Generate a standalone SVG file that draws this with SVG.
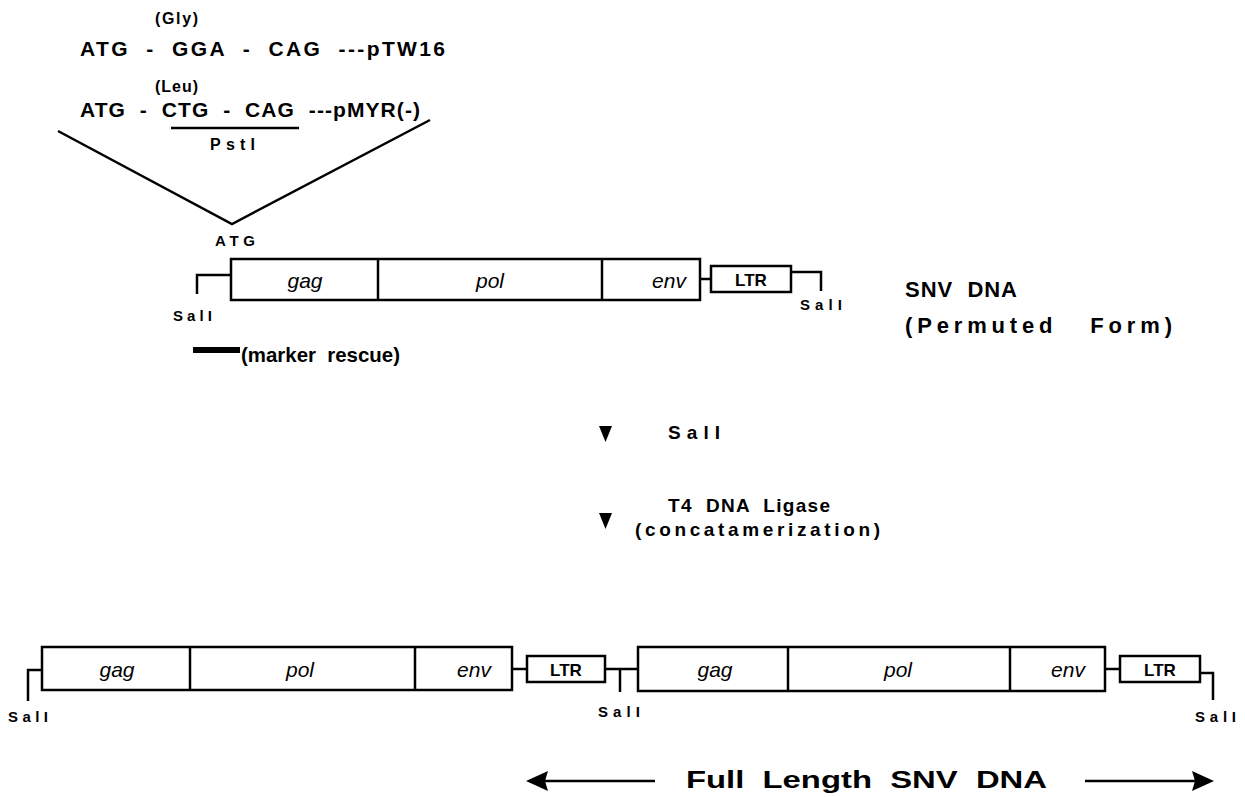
<svg xmlns="http://www.w3.org/2000/svg" width="1245" height="797" viewBox="0 0 1245 797" xml:space="preserve">
<style>
.b{font-family:"Liberation Sans",Arial,sans-serif;font-weight:bold;fill:#000;white-space:pre}
.i{font-family:"Liberation Sans",Arial,sans-serif;font-style:italic;font-size:21px;fill:#000;text-anchor:middle}
.ln{stroke:#000;stroke-width:2.5;fill:none}
.box{stroke:#000;stroke-width:2.5;fill:#fff}
</style>
<rect width="1245" height="797" fill="#fff"/>
<g id="codons">
<text class="b" x="155" y="24" font-size="16" textLength="43" lengthAdjust="spacing">(Gly)</text>
<text class="b" x="80" y="56" font-size="21" textLength="365" lengthAdjust="spacing">ATG  -  GGA  -  CAG  ---pTW16</text>
<text class="b" x="155" y="92" font-size="16" textLength="43" lengthAdjust="spacing">(Leu)</text>
<text class="b" x="80" y="117" font-size="21" textLength="340" lengthAdjust="spacing">ATG  -  CTG  -  CAG  ---pMYR(-)</text>
<line class="ln" x1="171" y1="128" x2="299" y2="128"/>
<text class="b" x="210" y="150" font-size="16" textLength="45" lengthAdjust="spacing">PstI</text>
</g>
<g id="upper-construct">
<rect class="box" x="231" y="259" width="469" height="41"/>
<line class="ln" x1="378" y1="259" x2="378" y2="300"/>
<line class="ln" x1="602" y1="259" x2="602" y2="300"/>
<text class="i" x="305" y="288">gag</text>
<text class="i" x="490" y="288">pol</text>
<text class="i" x="669" y="288">env</text>
<rect class="box" x="711" y="266" width="80" height="26"/>
<text class="b" x="751" y="286" font-size="17" text-anchor="middle">LTR</text>
<polyline class="ln" points="231,275 197,275 197,294"/>
<line class="ln" x1="700" y1="279" x2="711" y2="279"/>
<polyline class="ln" points="791,272 821,272 821,291"/>
<text class="b" x="173" y="321" font-size="15" textLength="39" lengthAdjust="spacing">SalI</text>
<text class="b" x="800" y="310" font-size="15" textLength="42" lengthAdjust="spacing">SalI</text>
<text class="b" x="215" y="246" font-size="15" textLength="40" lengthAdjust="spacing">ATG</text>
</g>
<g id="labels">
<text class="b" x="905" y="297" font-size="22" textLength="112" lengthAdjust="spacing">SNV  DNA</text>
<text class="b" x="905" y="333" font-size="22" textLength="267" lengthAdjust="spacing">(Permuted   Form)</text>
<rect x="193" y="347" width="47" height="6" fill="#000"/>
<text class="b" x="241" y="362" font-size="21" textLength="159" lengthAdjust="spacingAndGlyphs">(marker  rescue)</text>
<polygon points="599,426 612,426 605.5,442" fill="#000"/>
<text class="b" x="668" y="439" font-size="19" textLength="52" lengthAdjust="spacing">SalI</text>
<polygon points="599,513 612,513 605.5,529" fill="#000"/>
<text class="b" x="668" y="512" font-size="19" textLength="162" lengthAdjust="spacing">T4  DNA  Ligase</text>
<text class="b" x="635" y="536" font-size="19" textLength="245" lengthAdjust="spacing">(concatamerization)</text>
</g>
<g id="lower-construct">
<rect class="box" x="42" y="647" width="470" height="43"/>
<line class="ln" x1="190" y1="647" x2="190" y2="690"/>
<line class="ln" x1="415" y1="647" x2="415" y2="690"/>
<text class="i" x="117" y="677">gag</text>
<text class="i" x="300" y="677">pol</text>
<text class="i" x="474" y="677">env</text>
<rect class="box" x="527" y="656" width="78" height="26"/>
<text class="b" x="566" y="676" font-size="17" text-anchor="middle">LTR</text>
<polyline class="ln" points="42,670 28,670 28,701"/>
<line class="ln" x1="512" y1="669" x2="527" y2="669"/>
<line class="ln" x1="605" y1="669" x2="638" y2="669"/>
<line class="ln" x1="620" y1="669" x2="620" y2="692"/>
<rect class="box" x="638" y="647" width="467" height="44"/>
<line class="ln" x1="788" y1="647" x2="788" y2="691"/>
<line class="ln" x1="1010" y1="647" x2="1010" y2="691"/>
<text class="i" x="715" y="677">gag</text>
<text class="i" x="898" y="677">pol</text>
<text class="i" x="1068" y="677">env</text>
<line class="ln" x1="1105" y1="669" x2="1120" y2="669"/>
<rect class="box" x="1120" y="656" width="80" height="26"/>
<text class="b" x="1160" y="676" font-size="17" text-anchor="middle">LTR</text>
<polyline class="ln" points="1200,673 1213,673 1213,700"/>
<text class="b" x="8" y="722" font-size="15" textLength="40" lengthAdjust="spacing">SalI</text>
<text class="b" x="598" y="717" font-size="15" textLength="42" lengthAdjust="spacing">SalI</text>
<text class="b" x="1195" y="722" font-size="15" textLength="41" lengthAdjust="spacing">SalI</text>
</g>
<g id="full-length">
<line class="ln" x1="540" y1="781" x2="655" y2="781"/>
<polygon points="526,781 548,771 545,781 548,791" fill="#000"/>
<text class="b" x="686" y="788" font-size="24" textLength="361" lengthAdjust="spacingAndGlyphs">Full  Length  SNV  DNA</text>
<line class="ln" x1="1085" y1="781" x2="1200" y2="781"/>
<polygon points="1214,781 1192,771 1195,781 1192,791" fill="#000"/>
</g>
<g id="connectors">
<polyline class="ln" points="58,131 232,224 430,120"/>
</g>
</svg>
